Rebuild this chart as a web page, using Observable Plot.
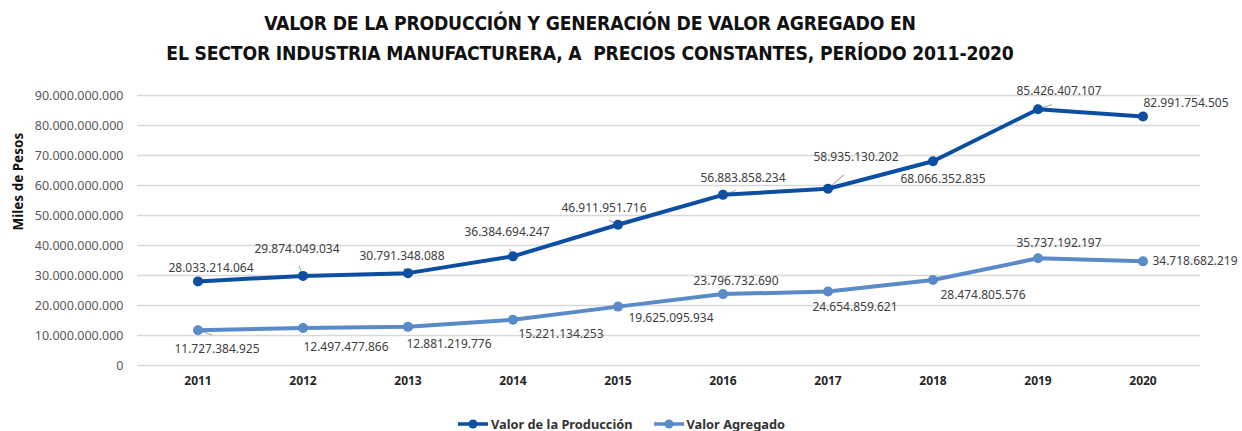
<!DOCTYPE html>
<html>
<head>
<meta charset="utf-8">
<script src="https://cdn.jsdelivr.net/npm/d3@7"></script>
<script src="https://cdn.jsdelivr.net/npm/@observablehq/plot@0.6"></script>
<style>
  html, body { margin: 0; padding: 0; background: #fff; }
  body { width: 1242px; height: 431px; overflow: hidden; font-family: "Noto Sans", sans-serif; }
  #title { height: 68px; box-sizing: border-box; padding-top: 9px; text-align: center; padding-right: 62px;
    font-family: "DejaVu Sans Condensed", "DejaVu Sans", sans-serif; font-weight: bold; font-size: 19.2px;
    line-height: 30px; color: #111; letter-spacing: -0.2px; }
  #legend { display: flex; justify-content: center; align-items: center; gap: 20px; height: 21px;
    font-family: "Noto Sans", sans-serif; font-weight: bold; font-size: 12.8px; color: #333; padding-top: 6px; box-sizing: border-box; }
  .item { display: flex; align-items: center; gap: 2px; }
</style>
</head>
<body>
<div id="title">VALOR DE LA PRODUCCIÓN Y GENERACIÓN DE VALOR AGREGADO EN<br>EL SECTOR INDUSTRIA MANUFACTURERA, A&nbsp; PRECIOS CONSTANTES, PERÍODO 2011-2020</div>
<div id="chart"></div>
<div id="legend"></div>
<script>
const years = ["2011","2012","2013","2014","2015","2016","2017","2018","2019","2020"];
const produccion = [28033214064, 29874049034, 30791348088, 36384694247, 46911951716, 56883858234, 58935130202, 68066352835, 85426407107, 82991754505];
const agregado = [11727384925, 12497477866, 12881219776, 15221134253, 19625095934, 23796732690, 24654859621, 28474805576, 35737192197, 34718682219];
const seriesNames = ["Valor de la Producción", "Valor Agregado"];
const colors = ["#0B4EA2", "#5B8AC9"];
const yTicks = [0, 10e9, 20e9, 30e9, 40e9, 50e9, 60e9, 70e9, 80e9, 90e9];

// label placement (pixel offsets from each point) and leader lines
const prodLabelOffset = [[13,-13],[-6,-27],[-6,-17],[-6,-24],[-14,-17],[20,-17],[28,-32],[10,18],[21,-18],[43,-13]];
const vaLabelOffset = [[19,19],[43,19],[41,17],[48,14],[53,12],[13,-13],[27,16],[50,15],[21,-15],[52,0]];
const prodLeader = [null,[-6,-15],[-6,-7],[-5,-11],[-14,-7],[20,-7],[24,-21],null,[21,-7],null];
const vaLeader = [[21,7],null,null,null,null,null,null,null,null,null];

const fmt = v => d3.format(",")(v).replace(/,/g, ".");

const rows = [];
years.forEach((yr, i) => {
  rows.push({year: yr, value: produccion[i], series: seriesNames[0], off: prodLabelOffset[i], leader: prodLeader[i]});
  rows.push({year: yr, value: agregado[i], series: seriesNames[1], off: vaLabelOffset[i], leader: vaLeader[i]});
});
const leaders = rows.filter(d => d.leader);

const line = {draw(ctx, l) { ctx.moveTo(0, 0); ctx.lineTo(0, -l); }};

const labelMarks = rows.map(d => Plot.text([d], {
  x: "year", y: "value", text: r => fmt(r.value), dx: d.off[0], dy: d.off[1],
  fontSize: 12, fill: "#404040", fontFamily: "Noto Sans, sans-serif"
}));

const chart = Plot.plot({
  width: 1242,
  height: 342,
  marginLeft: 139,
  marginRight: 42,
  marginTop: 27,
  marginBottom: 45,
  style: {fontFamily: "Noto Sans, sans-serif", fontSize: "12px", color: "#595959", background: "#fff"},
  x: {type: "band", domain: years, label: null, tickSize: 0, tickPadding: 11},
  y: {domain: [0, 90e9], ticks: yTicks, tickFormat: fmt, label: null, tickSize: 0, tickPadding: 16},
  color: {domain: seriesNames, range: colors},
  marks: [
    Plot.ruleY(yTicks, {stroke: "#d9d9d9", strokeWidth: 1.3, insetLeft: -2}),
    Plot.axisX({tickSize: 0, tickPadding: 11, fontWeight: "bold", fill: "#262626", fontSize: 12}),
    Plot.axisY({ticks: yTicks, tickFormat: fmt, tickSize: 0, tickPadding: 16, fill: "#595959", fontSize: 12.5}),
    Plot.vector(leaders, {x: "year", y: "value", anchor: "start",
      length: d => Math.hypot(d.leader[0], d.leader[1]),
      rotate: d => Math.atan2(d.leader[0], -d.leader[1]) * 180 / Math.PI,
      shape: line, stroke: "#a6a6a6", strokeWidth: 1}),
    Plot.line(rows, {x: "year", y: "value", z: "series", stroke: "series", strokeWidth: 4, curve: "linear"}),
    Plot.dot(rows, {x: "year", y: "value", fill: "series", r: 5, stroke: null}),
    ...labelMarks,
    Plot.text(["Miles de Pesos"], {frameAnchor: "left", dx: -121, rotate: -90, fontWeight: "bold", fontSize: 13.5, fill: "#111"})
  ]
});
document.getElementById("chart").appendChild(chart);

const legend = document.getElementById("legend");
seriesNames.forEach((name, i) => {
  const item = document.createElement("div");
  item.className = "item";
  item.innerHTML = `<svg width="32" height="12"><line x1="1" y1="6" x2="31" y2="6" stroke="${colors[i]}" stroke-width="3.5"/><circle cx="16" cy="6" r="4.5" fill="${colors[i]}"/></svg><span>${name}</span>`;
  legend.appendChild(item);
});
</script>
</body>
</html>
